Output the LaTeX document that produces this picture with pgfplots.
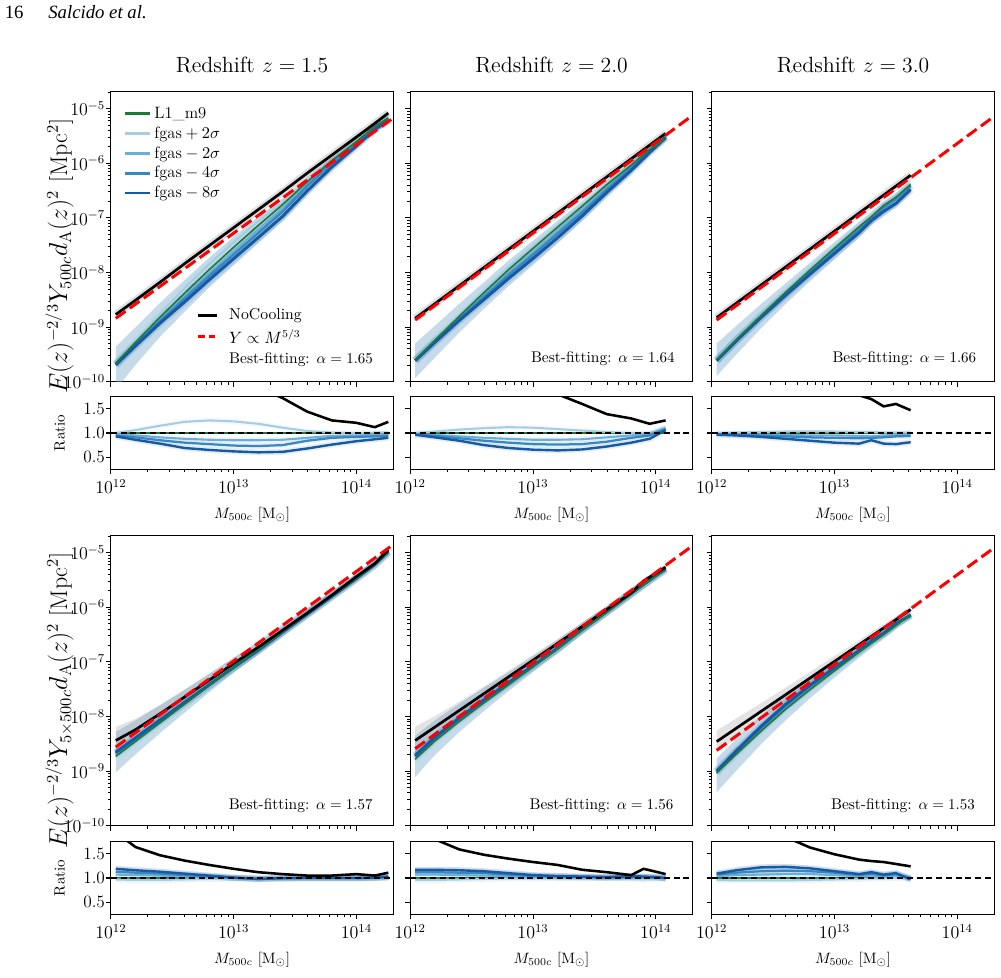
\documentclass[border=0pt]{standalone}
\usepackage{amsmath}
\usepackage{fontspec}
\usepackage{pgfplots}
\usepackage{pgfplotstable}
\usepgfplotslibrary{fillbetween}
\pgfplotsset{compat=1.18}
\newfontfamily\timesfont{Liberation Serif}

\definecolor{cP2}{RGB}{166,206,227}
\definecolor{cD2}{RGB}{107,174,214}
\definecolor{cD4}{RGB}{56,134,194}
\definecolor{cD8}{RGB}{22,90,163}
\definecolor{cG}{RGB}{31,122,56}
\definecolor{cBand}{RGB}{120,170,205}

% log10(M500c), log10(Y) of each run, envelope of the scatter, and ratios to L1_m9
\pgfplotstableread{
x G B D8 D4 D2 P2 bu bl rB rD8 rD4 rD2 rP2
12.04 -9.66 -8.77 -9.692 -9.682 -9.669 -9.66 -9.36 -10.142 7.76 0.93 0.95 0.98 1.00
12.2 -9.28 -8.51 -9.346 -9.321 -9.302 -9.255 -9.005 -9.696 5.89 0.86 0.91 0.95 1.06
12.4 -8.82 -8.18 -8.928 -8.891 -8.861 -8.759 -8.559 -9.178 4.37 0.78 0.85 0.91 1.15
12.6 -8.38 -7.84 -8.541 -8.477 -8.436 -8.29 -8.14 -8.721 3.47 0.69 0.80 0.88 1.23
12.8 -7.95 -7.51 -8.137 -8.064 -8.016 -7.85 -7.73 -8.277 2.75 0.65 0.77 0.86 1.26
13.0 -7.54 -7.18 -7.748 -7.671 -7.611 -7.447 -7.347 -7.868 2.29 0.62 0.74 0.85 1.24
13.2 -7.14 -6.85 -7.362 -7.277 -7.211 -7.064 -6.984 -7.462 1.95 0.60 0.73 0.85 1.19
13.4 -6.755 -6.52 -6.970 -6.880 -6.821 -6.71 -6.64 -7.06 1.72 0.61 0.75 0.86 1.11
13.6 -6.337 -6.18 -6.504 -6.413 -6.383 -6.32 -6.26 -6.584 1.44 0.68 0.84 0.90 1.04
13.8 -5.95 -5.85 -6.069 -5.996 -5.977 -5.946 -5.886 -6.139 1.26 0.76 0.90 0.94 1.01
14.0 -5.603 -5.52 -5.684 -5.639 -5.625 -5.603 -5.543 -5.744 1.21 0.83 0.92 0.95 1.00
14.15 -5.32 -5.27 -5.380 -5.352 -5.338 -5.316 -5.256 -5.44 1.12 0.87 0.93 0.96 1.01
14.26 -5.17 -5.08 -5.216 -5.197 -5.183 -5.166 -5.106 -5.276 1.23 0.90 0.94 0.97 1.01
}\tAa

\pgfplotstableread{
x G B D8 D4 D2 P2 bu bl rB rD8 rD4 rD2 rP2
12.04 -9.60 -8.84 -9.615 -9.613 -9.609 -9.60 -9.30 -9.935 5.75 0.965 0.97 0.98 1.00
12.2 -9.24 -8.574 -9.281 -9.267 -9.258 -9.227 -8.977 -9.561 4.63 0.91 0.94 0.96 1.03
12.4 -8.80 -8.242 -8.876 -8.851 -8.832 -8.771 -8.571 -9.096 3.61 0.84 0.89 0.93 1.07
12.6 -8.37 -7.91 -8.495 -8.446 -8.416 -8.329 -8.179 -8.665 2.88 0.75 0.84 0.90 1.10
12.8 -7.95 -7.578 -8.111 -8.047 -8.006 -7.901 -7.781 -8.251 2.35 0.69 0.80 0.88 1.12
13.0 -7.56 -7.246 -7.744 -7.674 -7.626 -7.515 -7.415 -7.864 2.06 0.655 0.77 0.86 1.11
13.2 -7.17 -6.914 -7.364 -7.289 -7.236 -7.137 -7.057 -7.464 1.80 0.64 0.76 0.86 1.08
13.4 -6.786 -6.582 -6.966 -6.900 -6.846 -6.765 -6.695 -7.056 1.60 0.66 0.77 0.87 1.05
13.6 -6.393 -6.25 -6.536 -6.479 -6.434 -6.384 -6.324 -6.616 1.39 0.72 0.82 0.91 1.02
13.8 -6.032 -5.918 -6.129 -6.078 -6.054 -6.032 -5.972 -6.199 1.30 0.80 0.90 0.95 1.00
13.95 -5.745 -5.669 -5.801 -5.767 -5.754 -5.745 -5.685 -5.861 1.19 0.88 0.95 0.98 1.00
14.08 -5.554 -5.454 -5.529 -5.521 -5.513 -5.505 -5.445 -5.589 1.26 1.06 1.08 1.10 1.12
}\tAb

\pgfplotstableread{
x G B D8 D4 D2 P2 bu bl rB rD8 rD4 rD2 rP2
12.04 -9.60 -8.827 -9.615 -9.613 -9.609 -9.60 -9.30 -9.895 5.93 0.965 0.97 0.98 1.00
12.2 -9.23 -8.563 -9.252 -9.248 -9.239 -9.226 -8.976 -9.502 4.65 0.95 0.96 0.98 1.01
12.4 -8.79 -8.233 -8.826 -8.812 -8.803 -8.781 -8.581 -9.026 3.61 0.92 0.95 0.97 1.02
12.6 -8.365 -7.903 -8.421 -8.397 -8.383 -8.352 -8.202 -8.581 2.90 0.88 0.93 0.96 1.03
12.8 -7.955 -7.573 -8.031 -7.996 -7.977 -7.942 -7.822 -8.161 2.41 0.84 0.91 0.95 1.03
13.0 -7.555 -7.243 -7.652 -7.601 -7.577 -7.542 -7.442 -7.762 2.05 0.80 0.90 0.95 1.03
13.2 -7.163 -6.913 -7.271 -7.214 -7.19 -7.154 -7.074 -7.361 1.78 0.78 0.89 0.94 1.02
13.3 -6.978 -6.748 -7.049 -7.024 -7.01 -6.969 -6.889 -7.129 1.70 0.85 0.90 0.93 1.02
13.4 -6.773 -6.583 -6.881 -6.814 -6.795 -6.769 -6.699 -6.961 1.55 0.78 0.91 0.95 1.01
13.5 -6.622 -6.418 -6.736 -6.654 -6.64 -6.618 -6.548 -6.806 1.60 0.77 0.93 0.96 1.01
13.62 -6.387 -6.22 -6.479 -6.414 -6.405 -6.383 -6.313 -6.549 1.47 0.81 0.94 0.96 1.01
}\tAc

\pgfplotstableread{
x G B D8 D4 D2 P2 bu bl gu gl rB rD8 rD4 rD2 rP2
12.04 -8.73 -8.44 -8.654 -8.677 -8.701 -8.743 -8.284 -9.023 -8.19 -8.69 1.95 1.19 1.13 1.07 0.97
12.2 -8.458 -8.243 -8.394 -8.413 -8.433 -8.476 -8.074 -8.696 -8.043 -8.443 1.64 1.16 1.11 1.06 0.96
12.4 -8.118 -7.951 -8.065 -8.081 -8.097 -8.136 -7.795 -8.306 -7.791 -8.111 1.47 1.13 1.09 1.05 0.96
12.6 -7.778 -7.644 -7.741 -7.753 -7.765 -7.791 -7.511 -7.931 -7.514 -7.774 1.36 1.09 1.06 1.03 0.97
12.8 -7.44 -7.336 -7.419 -7.427 -7.431 -7.449 -7.219 -7.559 -7.226 -7.446 1.27 1.05 1.03 1.02 0.98
13.0 -7.106 -7.03 -7.102 -7.106 -7.106 -7.11 -6.922 -7.20 -6.93 -7.13 1.19 1.01 1.00 1.00 0.99
13.2 -6.78 -6.731 -6.789 -6.789 -6.784 -6.78 -6.629 -6.86 -6.651 -6.811 1.12 0.98 0.98 0.99 1.00
13.4 -6.453 -6.42 -6.453 -6.457 -6.457 -6.453 -6.313 -6.523 -6.35 -6.49 1.08 1.00 0.99 0.99 1.00
13.6 -6.126 -6.105 -6.126 -6.126 -6.126 -6.126 -6.006 -6.186 -6.045 -6.165 1.05 1.00 1.00 1.00 1.00
13.8 -5.80 -5.779 -5.80 -5.80 -5.80 -5.80 -5.70 -5.86 -5.729 -5.829 1.05 1.00 1.00 1.00 1.00
14.0 -5.473 -5.44 -5.473 -5.473 -5.473 -5.473 -5.383 -5.523 -5.39 -5.49 1.08 1.00 1.00 1.00 1.00
14.15 -5.22 -5.199 -5.216 -5.22 -5.22 -5.22 -5.136 -5.27 -5.149 -5.249 1.05 1.01 1.00 1.00 1.00
14.26 -4.995 -4.95 -4.982 -4.986 -4.991 -4.995 -4.912 -5.045 -4.90 -5.00 1.11 1.03 1.02 1.01 1.00
}\tBa

\pgfplotstableread{
x G B D8 D4 D2 P2 bu bl gu gl rB rD8 rD4 rD2 rP2
12.04 -8.782 -8.44 -8.714 -8.733 -8.753 -8.80 -8.354 -9.11 -8.19 -8.69 2.2 1.17 1.12 1.07 0.96
12.2 -8.45 -8.195 -8.382 -8.401 -8.421 -8.468 -8.072 -8.708 -7.995 -8.395 1.80 1.17 1.12 1.07 0.96
12.4 -8.09 -7.889 -8.026 -8.045 -8.065 -8.103 -7.766 -8.283 -7.729 -8.049 1.59 1.16 1.11 1.06 0.97
12.6 -7.752 -7.582 -7.695 -7.711 -7.731 -7.761 -7.475 -7.901 -7.452 -7.712 1.48 1.14 1.10 1.05 0.98
12.8 -7.422 -7.276 -7.381 -7.393 -7.405 -7.426 -7.191 -7.536 -7.166 -7.386 1.40 1.10 1.07 1.04 0.99
13.0 -7.094 -6.97 -7.069 -7.077 -7.085 -7.098 -6.899 -7.188 -6.87 -7.07 1.33 1.06 1.04 1.02 0.99
13.2 -6.765 -6.661 -6.748 -6.752 -6.761 -6.765 -6.598 -6.845 -6.581 -6.741 1.27 1.04 1.03 1.01 1.00
13.4 -6.42 -6.352 -6.407 -6.411 -6.416 -6.42 -6.277 -6.49 -6.282 -6.422 1.17 1.03 1.02 1.01 1.00
13.6 -6.09 -6.041 -6.081 -6.086 -6.09 -6.09 -5.971 -6.15 -5.981 -6.101 1.12 1.02 1.01 1.00 1.00
13.8 -5.76 -5.735 -5.743 -5.751 -5.76 -5.764 -5.643 -5.824 -5.685 -5.785 1.06 1.04 1.02 1.00 0.99
13.9 -5.595 -5.519 -5.582 -5.586 -5.591 -5.608 -5.492 -5.658 -5.469 -5.569 1.19 1.03 1.02 1.01 0.97
14.0 -5.43 -5.377 -5.421 -5.426 -5.43 -5.434 -5.341 -5.484 -5.327 -5.427 1.13 1.02 1.01 1.00 0.99
14.08 -5.30 -5.267 -5.30 -5.30 -5.304 -5.304 -5.23 -5.354 -5.217 -5.317 1.08 1.00 1.00 0.99 0.99
}\tBb

\pgfplotstableread{
x G B D8 D4 D2 P2 bu bl gu gl rB rD8 rD4 rD2 rP2
12.04 -9.037 -8.46 -9.0 -9.008 -9.02 -9.055 -8.77 -9.385 -8.26 -8.66 3.78 1.09 1.07 1.04 0.96
12.2 -8.692 -8.215 -8.628 -8.647 -8.667 -8.714 -8.408 -8.994 -8.035 -8.395 3.0 1.16 1.11 1.06 0.95
12.4 -8.271 -7.909 -8.185 -8.214 -8.242 -8.293 -7.985 -8.513 -7.759 -8.059 2.3 1.22 1.14 1.07 0.95
12.6 -7.87 -7.603 -7.78 -7.809 -7.837 -7.892 -7.60 -8.072 -7.473 -7.733 1.85 1.23 1.15 1.08 0.95
12.8 -7.509 -7.297 -7.43 -7.452 -7.476 -7.527 -7.27 -7.667 -7.187 -7.407 1.63 1.20 1.14 1.08 0.96
13.0 -7.164 -6.991 -7.107 -7.119 -7.139 -7.177 -6.967 -7.287 -6.891 -7.091 1.49 1.14 1.11 1.06 0.97
13.2 -6.825 -6.685 -6.792 -6.80 -6.808 -6.834 -6.672 -6.924 -6.605 -6.765 1.38 1.08 1.06 1.04 0.98
13.3 -6.662 -6.532 -6.613 -6.625 -6.641 -6.666 -6.503 -6.746 -6.452 -6.612 1.35 1.12 1.09 1.05 0.99
13.4 -6.503 -6.379 -6.474 -6.482 -6.49 -6.507 -6.374 -6.577 -6.309 -6.449 1.33 1.07 1.05 1.03 0.99
13.5 -6.337 -6.226 -6.296 -6.304 -6.316 -6.337 -6.206 -6.397 -6.166 -6.286 1.29 1.10 1.08 1.05 1.00
13.62 -6.135 -6.042 -6.148 -6.135 -6.135 -6.135 -6.068 -6.195 -5.982 -6.102 1.24 0.97 1.00 1.00 1.00
}\tBc

\pgfplotsset{
  panel/.style={scale only axis, width=188.33pt, xmin=12, xmax=14.301,
    axis line style={line width=0.8pt},
    tick pos=left, tick align=outside,
    major tick length=3.4pt, minor tick length=2pt,
    every tick/.style={black, line width=0.7pt},
    every minor tick/.style={black, line width=0.5pt},
    xtick={12,13,14},
    minor xtick={12.301,12.477,12.602,12.699,12.778,12.845,12.903,12.954,
                 13.301,13.477,13.602,13.699,13.778,13.845,13.903,13.954},
    ticklabel style={font=\fontsize{11.5}{13}\selectfont},
    yticklabel style={xshift=3pt},
    label style={font=\fontsize{14.7}{17}\selectfont},
    every axis y label/.style={at={(rel axis cs:0,0.5)}, xshift=-34.2pt, anchor=center, rotate=90},
    every axis x label/.style={at={(rel axis cs:0.5,0)}, yshift=-30pt, anchor=center},
  },
  mainpanel/.style={panel, height=193.3pt, ymin=-10, ymax=-4.69,
    ytick={-10,-9,-8,-7,-6,-5},
    minor ytick={-9.699,-9.523,-9.398,-9.301,-9.222,-9.155,-9.097,-9.046,
                 -8.699,-8.523,-8.398,-8.301,-8.222,-8.155,-8.097,-8.046,
                 -7.699,-7.523,-7.398,-7.301,-7.222,-7.155,-7.097,-7.046,
                 -6.699,-6.523,-6.398,-6.301,-6.222,-6.155,-6.097,-6.046,
                 -5.699,-5.523,-5.398,-5.301,-5.222,-5.155,-5.097,-5.046,-4.699},
    xticklabel=\empty},
  ratiopanel/.style={panel, height=48.4pt, ymin=0.25, ymax=1.75, ytick={0.5,1,1.5},
    xticklabels={$10^{12}$,$10^{13}$,$10^{14}$},
    xlabel={$M_{500c}$ [M$_\odot$]}},
  toptitle/.style={title={Redshift $z = #1$},
    title style={at={(0.5,1)}, anchor=center, yshift=11.8pt, font=\fontsize{14.7}{17}\selectfont}},
  mainylabels/.style={yticklabels={$10^{-10}$,$10^{-9}$,$10^{-8}$,$10^{-7}$,$10^{-6}$,$10^{-5}$},
    ylabel style={xshift=-13pt, font=\fontsize{16}{18}\selectfont}},
}

\newcommand{\bandfill}[1]{%
  \addplot[name path=bu, draw=none, forget plot] table[x=x, y=bu]{#1};
  \addplot[name path=bl, draw=none, forget plot] table[x=x, y=bl]{#1};
  \addplot[fill=cBand, fill opacity=0.42, draw=none, forget plot] fill between[of=bu and bl];
}
\newcommand{\greyfill}[1]{%
  \addplot[name path=gu, draw=none, forget plot] table[x=x, y=gu]{#1};
  \addplot[name path=gl, draw=none, forget plot] table[x=x, y=gl]{#1};
  \addplot[fill=gray, fill opacity=0.22, draw=none, forget plot] fill between[of=gu and gl];
}
% #1 table, #2 Y propto M^{5/3} end points, #3 opacity of the halo round NoCooling
\newcommand{\mainlines}[3]{%
  \addplot[gray, line width=5pt, draw opacity=#3, forget plot] table[x=x, y=B]{#1};
  \addplot[cP2, line width=5pt, draw opacity=0.15, forget plot] table[x=x, y=P2]{#1};
  \addplot[cD2, line width=5pt, draw opacity=0.15, forget plot] table[x=x, y=D2]{#1};
  \addplot[cD4, line width=5pt, draw opacity=0.15, forget plot] table[x=x, y=D4]{#1};
  \addplot[cD8, line width=5pt, draw opacity=0.15, forget plot] table[x=x, y=D8]{#1};
  \addplot[cP2, line width=1.5pt, forget plot] table[x=x, y=P2]{#1};
  \addplot[cD2, line width=1.5pt, forget plot] table[x=x, y=D2]{#1};
  \addplot[cD4, line width=1.6pt, forget plot] table[x=x, y=D4]{#1};
  \addplot[cD8, line width=2pt, forget plot] table[x=x, y=D8]{#1};
  \addplot[cG, line width=1.1pt, forget plot] table[x=x, y=G]{#1};
  \addplot[black, line width=1.8pt, forget plot] table[x=x, y=B]{#1};
  \addplot[red, line width=2pt, dash pattern=on 8pt off 3.5pt, forget plot] coordinates {#2};
}
% #1 table, #2 largest mass, #3 opacity of the halo round each run
\newcommand{\ratiolines}[3]{%
  \addplot[cP2, line width=4pt, draw opacity=#3, forget plot] table[x=x, y=rP2]{#1};
  \addplot[cD2, line width=4pt, draw opacity=#3, forget plot] table[x=x, y=rD2]{#1};
  \addplot[cD4, line width=4pt, draw opacity=#3, forget plot] table[x=x, y=rD4]{#1};
  \addplot[cD8, line width=4pt, draw opacity=#3, forget plot] table[x=x, y=rD8]{#1};
  \addplot[cG, line width=1.3pt, forget plot] coordinates {(12.04,1) (#2,1)};
  \addplot[cP2, line width=1.4pt, forget plot] table[x=x, y=rP2]{#1};
  \addplot[cD2, line width=1.4pt, forget plot] table[x=x, y=rD2]{#1};
  \addplot[cD4, line width=1.5pt, forget plot] table[x=x, y=rD4]{#1};
  \addplot[cD8, line width=1.6pt, forget plot] table[x=x, y=rD8]{#1};
  \addplot[black, line width=1.7pt, forget plot] table[x=x, y=rB]{#1};
  \addplot[black, line width=0.9pt, dash pattern=on 4pt off 2.5pt, forget plot] coordinates {(12,1) (14.301,1)};
}

\begin{document}
\begin{tikzpicture}
\node[anchor=base west, font=\timesfont\fontsize{12.5}{14}\selectfont, inner sep=0pt] at (3pt,639pt) {16};
\node[anchor=base west, font=\timesfont\itshape\fontsize{12.5}{14}\selectfont, inner sep=0pt] at (32pt,639pt) {Salcido et al.};

% ---------------- top row: Y_500c ----------------
\begin{axis}[mainpanel, mainylabels, toptitle=1.5, at={(73.9pt,396.87pt)}, anchor=south west,
  ylabel={$E(z)^{-2/3}Y_{500c}d_{\mathrm{A}}(z)^2$ [Mpc$^2$]},
  legend cell align=left,
  legend style={draw=none, fill=none, at={(0,1)}, anchor=north west, xshift=5pt, yshift=-6pt,
    font=\fontsize{11}{13}\selectfont, row sep=0pt}]
\bandfill{\tAa}
\mainlines{\tAa}{(12.04,-8.84) (14.301,-5.17)}{0.25}
\addlegendimage{cG, line width=1.8pt}\addlegendentry{L1\_m9}
\addlegendimage{cP2, line width=1.8pt}\addlegendentry{$\mathrm{fgas} + 2\sigma$}
\addlegendimage{cD2, line width=1.8pt}\addlegendentry{$\mathrm{fgas} - 2\sigma$}
\addlegendimage{cD4, line width=1.8pt}\addlegendentry{$\mathrm{fgas} - 4\sigma$}
\addlegendimage{cD8, line width=1.8pt}\addlegendentry{$\mathrm{fgas} - 8\sigma$}
% second key: NoCooling and the M^{5/3} scaling, with the fitted slope
\draw[black, line width=1.8pt] (rel axis cs:0.309,0.228) -- (rel axis cs:0.376,0.228);
\draw[red, line width=2pt, dash pattern=on 4.5pt off 2.5pt] (rel axis cs:0.309,0.155) -- (rel axis cs:0.376,0.155);
\node[anchor=west, font=\fontsize{10.5}{12.5}\selectfont, inner sep=0pt] at (rel axis cs:0.418,0.228) {NoCooling};
\node[anchor=west, font=\fontsize{10.5}{12.5}\selectfont, inner sep=0pt] at (rel axis cs:0.418,0.155) {$Y \propto M^{5/3}$};
\node[anchor=west, font=\fontsize{10.3}{12.5}\selectfont, inner sep=0pt] at (rel axis cs:0.418,0.075) {Best-fitting: $\alpha = 1.65$};
\end{axis}

\begin{axis}[mainpanel, yticklabel=\empty, toptitle=2.0, at={(273.5pt,396.87pt)}, anchor=south west]
\bandfill{\tAb}
\mainlines{\tAb}{(12.04,-8.87) (14.301,-5.12)}{0.25}
\node[anchor=east, font=\fontsize{10.3}{12.5}\selectfont] at (rel axis cs:0.955,0.081) {Best-fitting: $\alpha = 1.64$};
\end{axis}

\begin{axis}[mainpanel, yticklabel=\empty, toptitle=3.0, at={(474.5pt,396.87pt)}, anchor=south west]
\bandfill{\tAc}
\mainlines{\tAc}{(12.04,-8.87) (14.301,-5.14)}{0.25}
\node[anchor=east, font=\fontsize{10.3}{12.5}\selectfont] at (rel axis cs:0.955,0.081) {Best-fitting: $\alpha = 1.66$};
\end{axis}

% ---------------- top row: ratios ----------------
\begin{axis}[ratiopanel, at={(73.9pt,338.47pt)}, anchor=south west, ylabel={Ratio}, yticklabels={0.5,1.0,1.5}]
\ratiolines{\tAa}{14.26}{0.1}
\end{axis}
\begin{axis}[ratiopanel, at={(273.5pt,338.47pt)}, anchor=south west, yticklabel=\empty]
\ratiolines{\tAb}{14.08}{0.1}
\end{axis}
\begin{axis}[ratiopanel, at={(474.5pt,338.47pt)}, anchor=south west, yticklabel=\empty]
\ratiolines{\tAc}{13.62}{0.1}
\end{axis}

% ---------------- bottom row: Y_{5x500c} ----------------
\begin{axis}[mainpanel, mainylabels, at={(73.9pt,100.87pt)}, anchor=south west,
  ylabel={$E(z)^{-2/3}Y_{5\times500c}d_{\mathrm{A}}(z)^2$ [Mpc$^2$]}]
\bandfill{\tBa}
\greyfill{\tBa}
\mainlines{\tBa}{(12.04,-8.56) (14.301,-4.85)}{0}
\node[anchor=east, font=\fontsize{10.3}{12.5}\selectfont] at (rel axis cs:0.945,0.069) {Best-fitting: $\alpha = 1.57$};
\end{axis}
\begin{axis}[mainpanel, yticklabel=\empty, at={(273.5pt,100.87pt)}, anchor=south west]
\bandfill{\tBb}
\greyfill{\tBb}
\mainlines{\tBb}{(12.04,-8.59) (14.301,-4.87)}{0}
\node[anchor=east, font=\fontsize{10.3}{12.5}\selectfont] at (rel axis cs:0.95,0.069) {Best-fitting: $\alpha = 1.56$};
\end{axis}
\begin{axis}[mainpanel, yticklabel=\empty, at={(474.5pt,100.87pt)}, anchor=south west]
\bandfill{\tBc}
\greyfill{\tBc}
\mainlines{\tBc}{(12.04,-8.62) (14.301,-4.91)}{0}
\node[anchor=east, font=\fontsize{10.3}{12.5}\selectfont] at (rel axis cs:0.95,0.069) {Best-fitting: $\alpha = 1.53$};
\end{axis}

% ---------------- bottom row: ratios ----------------
\begin{axis}[ratiopanel, at={(73.9pt,41.8pt)}, anchor=south west, ylabel={Ratio}, yticklabels={0.5,1.0,1.5}]
\ratiolines{\tBa}{14.26}{0.2}
\end{axis}
\begin{axis}[ratiopanel, at={(273.5pt,41.8pt)}, anchor=south west, yticklabel=\empty]
\ratiolines{\tBb}{14.08}{0.2}
\end{axis}
\begin{axis}[ratiopanel, at={(474.5pt,41.8pt)}, anchor=south west, yticklabel=\empty]
\ratiolines{\tBc}{13.62}{0.2}
\end{axis}

% page frame
\pgfresetboundingbox
\path[use as bounding box] (0,0) rectangle (667.33pt,651.33pt);
\end{tikzpicture}
\end{document}
